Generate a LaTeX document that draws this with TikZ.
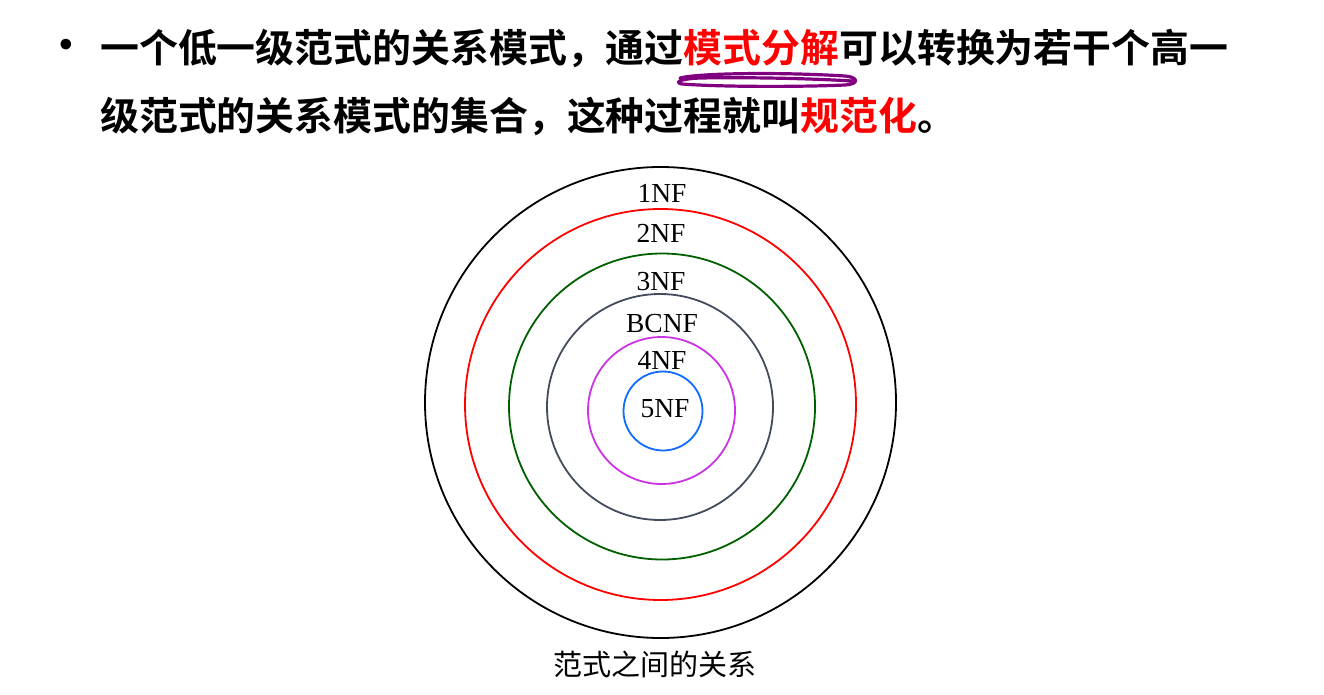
\documentclass[tikz,border=0pt]{standalone}
\usepackage{fontspec}
\setmainfont{Liberation Serif}
\newfontfamily\cjkbold{Noto Sans CJK SC Bold}
\newfontfamily\cjk{Noto Sans CJK SC}
\newfontfamily\bulletfont{Liberation Sans}
\definecolor{nfgreen}{RGB}{0,96,0}
\definecolor{nfgray}{RGB}{66,76,92}
\definecolor{nfmag}{RGB}{204,51,228}
\definecolor{nfblue}{RGB}{16,108,255}
\definecolor{inkpurple}{RGB}{128,0,128}
\begin{document}
\begin{tikzpicture}[x=1pt,y=-1pt,
  ring/.style={circle,draw,inner sep=0pt,line width=1.8pt},
  nflabel/.style={anchor=base,inner sep=0pt,font=\fontsize{27.5}{30}\selectfont},
  titletext/.style={anchor=base west,inner sep=0pt,font=\cjkbold\fontsize{38.9}{40}\selectfont}]
\useasboundingbox (0,0) rectangle (1324,695);
% title
\node[inner sep=0pt,font=\bulletfont\fontsize{39}{40}\selectfont] (bul) at (66,48) {•};
\node[titletext] (l1) at (100,63) {一个低一级范式的关系模式，通过\textcolor{red}{模式分解}可以转换为若干个高一};
\node[titletext] (l2) at (100,131) {级范式的关系模式的集合，这种过程就叫\textcolor{red}{规范化}。};
% purple squiggle
\draw[inkpurple,line width=3.2pt,line cap=round,line join=round]
  (680,78) .. controls (700,73) and (780,72) .. (845,76)
  .. controls (858,77) and (860,84) .. (845,85)
  .. controls (800,87) and (720,87) .. (682,84)
  .. controls (675,83) and (677,79) .. (700,78)
  .. controls (760,77) and (820,79) .. (852,81);
% rings
\node[ring,draw=black,minimum size=471pt] (c1) at (660.5,402.5) {};
\node[ring,draw=red,minimum size=391pt] (c2) at (660.5,404.5) {};
\node[ring,draw=nfgreen,minimum size=306pt] (c3) at (662,406.5) {};
\node[ring,draw=nfgray,minimum size=226pt] (c4) at (660,407) {};
\node[ring,draw=nfmag,minimum size=147pt] (c5) at (661.5,410.5) {};
\node[ring,draw=nfblue,minimum size=79pt] (c6) at (663,411) {};
% labels
\node[nflabel] (t1) at (662,202) {1NF};
\node[nflabel] (t2) at (661,242) {2NF};
\node[nflabel] (t3) at (661,290) {3NF};
\node[nflabel] (t4) at (662,332) {BCNF};
\node[nflabel] (t5) at (662,369) {4NF};
\node[nflabel] (t6) at (665,417) {5NF};
% caption
\node[anchor=base,inner sep=0pt,font=\cjk\fontsize{29}{30}\selectfont] (cap) at (655,675) {范式之间的关系};
\end{tikzpicture}
\end{document}
